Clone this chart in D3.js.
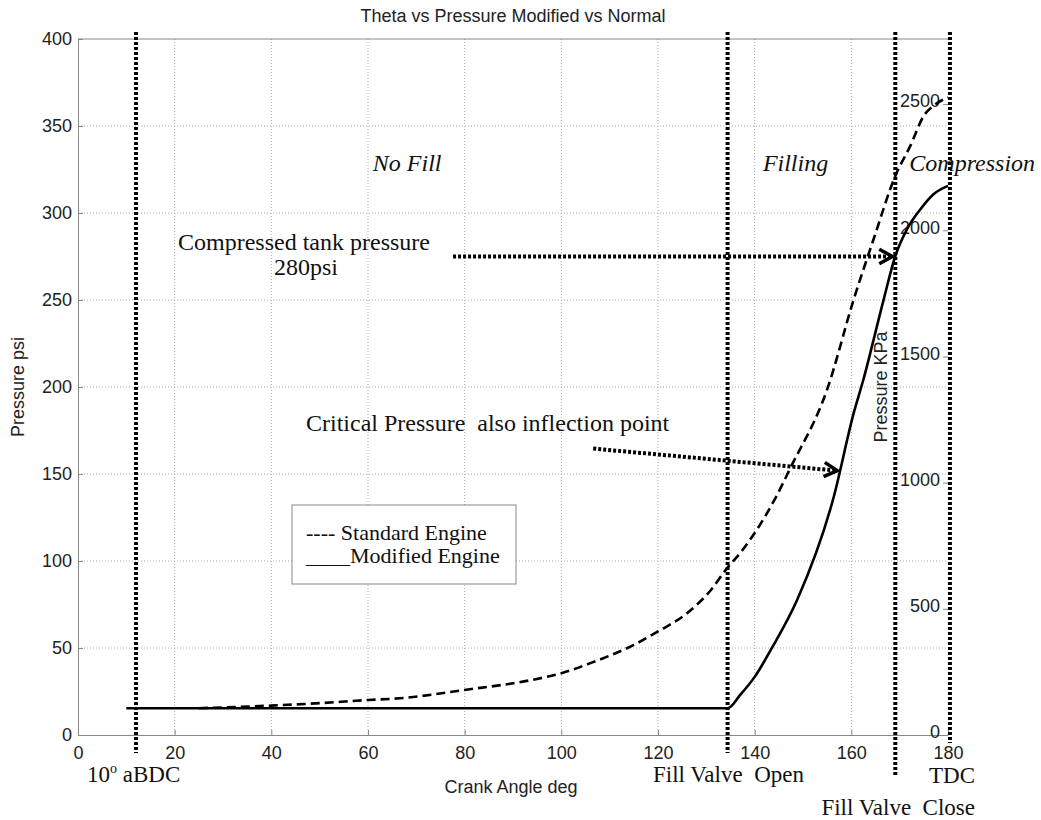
<!DOCTYPE html>
<html>
<head>
<meta charset="utf-8">
<style>
  body { margin: 0; background: #fff; }
  svg { display: block; }
  .sans { font-family: "Liberation Sans", Arial, sans-serif; fill: #222; }
  .serif { font-family: "Liberation Serif", "Times New Roman", serif; fill: #111; white-space: pre; }
</style>
</head>
<body>
<svg></svg>
<script src="https://d3js.org/d3.v7.min.js"></script>
<script>
// crank angle (deg) vs pressure (psi)
const standardEngine = [
  [25, 15.4], [40, 16.9], [50, 18.3], [60, 20.1], [66.6, 21.1], [80, 25.9],
  [94, 31.7], [100, 35.5], [106, 41.3], [115, 51.8], [120, 59.5], [126, 70],
  [131, 83.5], [134.3, 95.9], [137, 104.6], [144.3, 136.2], [147.4, 153.5],
  [155, 198.6], [160.5, 250.4], [164.6, 284.9], [169.1, 321.3], [172.2, 338.6],
  [175, 355.9], [177, 361.6], [180, 366.4]
];
const modifiedEngine = [
  [10, 15.4], [134.4, 15.4], [137, 23], [140, 33.4], [143.6, 50.2], [148.8, 77.7],
  [156.3, 136.2], [160.5, 185.1], [162.5, 204.3], [166.7, 250.4], [169.1, 275.3],
  [171.5, 290.6], [174.3, 302.2], [177, 310.8], [180, 315.6]
];

const angleTicks = [0, 20, 40, 60, 80, 100, 120, 140, 160, 180];
const psiTicks = [0, 50, 100, 150, 200, 250, 300, 350, 400];
const kpaTicks = [0, 500, 1000, 1500, 2000, 2500];
const PSI_TO_KPA = 6.895;

// event lines: 10 deg aBDC, fill valve open, fill valve close, TDC
const eventAngles = [12, 134.4, 169.1, 180.4];
const eventDrop = [18, 18, 40, 8];

const regionNames = ["No Fill", "Filling", "Compression"];
const regionAngles = [61, 141.7, 172];

// annotation arrows [angle, psi] start -> end
const arrowFrom = [[77.6, 275], [106.6, 164.6]];
const arrowTo = [[168.5, 275], [157.1, 151.9]];

const W = 1041, H = 820;
const margin = { left: 78, top: 39, right: 93, bottom: 85 };
const width = W - margin.left - margin.right;
const height = H - margin.top - margin.bottom;

const svg = d3.select("svg").attr("width", W).attr("height", H);
const g = svg.append("g").attr("transform", "translate(" + margin.left + "," + margin.top + ")");

const x = d3.scaleLinear().domain([0, 180]).range([0, width]);
const y = d3.scaleLinear().domain([0, 400]).range([height, 0]);
const yKpa = d3.scaleLinear().domain([0, 400 * PSI_TO_KPA]).range([height, 0]);

// grid
g.append("g")
  .selectAll("line")
  .data(angleTicks.slice(1, -1))
  .enter().append("line")
  .attr("x1", x).attr("x2", x)
  .attr("y1", 0).attr("y2", height)
  .attr("stroke", "#aaa").attr("stroke-width", 1).attr("stroke-dasharray", "1,2");
g.append("g")
  .selectAll("line")
  .data(psiTicks.slice(1, -1))
  .enter().append("line")
  .attr("y1", y).attr("y2", y)
  .attr("x1", 0).attr("x2", width)
  .attr("stroke", "#aaa").attr("stroke-width", 1).attr("stroke-dasharray", "1,2");

// frame
g.append("line").attr("x1", 0).attr("x2", width).attr("y1", 0).attr("y2", 0)
  .attr("stroke", "#888");

// axes
const xAxis = g.append("g").attr("transform", "translate(0," + height + ")")
  .call(d3.axisBottom(x).tickValues(angleTicks).tickSizeInner(-5).tickSizeOuter(0).tickPadding(11));
const yAxis = g.append("g")
  .call(d3.axisLeft(y).tickValues(psiTicks).tickSizeInner(-5).tickSizeOuter(0).tickPadding(6));
const kAxis = g.append("g").attr("transform", "translate(" + width + ",0)")
  .call(d3.axisLeft(yKpa).tickValues(kpaTicks).tickFormat(d3.format("d"))
    .tickSizeInner(5).tickSizeOuter(0).tickPadding(3));

[xAxis, yAxis, kAxis].forEach(function(a) {
  a.selectAll("path, line").attr("stroke", "#888");
  a.selectAll("text").attr("class", "sans").attr("font-size", 18).attr("fill", "#222");
});
kAxis.select("path").remove();
kAxis.selectAll("text").attr("y", -3);

// curves
const line = d3.line()
  .x(function(d) { return x(d[0]); })
  .y(function(d) { return y(d[1]); })
  .curve(d3.curveMonotoneX);

g.append("path").datum(standardEngine)
  .attr("d", line).attr("fill", "none")
  .attr("stroke", "#000").attr("stroke-width", 2.6).attr("stroke-dasharray", "9,5");
g.append("path").datum(modifiedEngine)
  .attr("d", line).attr("fill", "none")
  .attr("stroke", "#000").attr("stroke-width", 2.6);

// event lines
g.append("g")
  .selectAll("line")
  .data(eventAngles)
  .enter().append("line")
  .attr("x1", x).attr("x2", x)
  .attr("y1", -7)
  .attr("y2", function(d, i) { return height + eventDrop[i]; })
  .attr("stroke", "#000").attr("stroke-width", 4).attr("stroke-dasharray", "3,2");

// arrows
const arrows = g.append("g");
arrowFrom.forEach(function(a, i) {
  const b = arrowTo[i];
  const x1 = x(a[0]), y1 = y(a[1]), x2 = x(b[0]), y2 = y(b[1]);
  const ang = Math.atan2(y2 - y1, x2 - x1);
  arrows.append("line")
    .attr("x1", x1).attr("y1", y1)
    .attr("x2", x2 - 3 * Math.cos(ang)).attr("y2", y2 - 3 * Math.sin(ang))
    .attr("stroke", "#000").attr("stroke-width", 4).attr("stroke-dasharray", "3,2");
  const len = 15, spread = 0.5;
  arrows.append("path")
    .attr("d", "M" + (x2 - len * Math.cos(ang - spread)) + "," + (y2 - len * Math.sin(ang - spread)) +
      "L" + x2 + "," + y2 +
      "L" + (x2 - len * Math.cos(ang + spread)) + "," + (y2 - len * Math.sin(ang + spread)))
    .attr("fill", "none").attr("stroke", "#000").attr("stroke-width", 3.5);
});

// region names
g.append("g")
  .selectAll("text")
  .data(regionNames)
  .enter().append("text")
  .attr("class", "serif")
  .attr("x", function(d, i) { return x(regionAngles[i]); })
  .attr("y", 171 - margin.top)
  .attr("font-size", 24).attr("font-style", "italic")
  .text(function(d) { return d; });

// annotation text
svg.append("text").attr("class", "serif").attr("x", 304).attr("y", 250)
  .attr("font-size", 24).attr("text-anchor", "middle").text("Compressed tank pressure");
svg.append("text").attr("class", "serif").attr("x", 306).attr("y", 275)
  .attr("font-size", 24).attr("text-anchor", "middle").text("280psi");
svg.append("text").attr("class", "serif").attr("x", 306).attr("y", 431)
  .attr("font-size", 24).text("Critical Pressure  also inflection point");

// legend
svg.append("rect").attr("x", 292).attr("y", 505).attr("width", 224).attr("height", 79)
  .attr("fill", "#fff").attr("stroke", "#888").attr("stroke-width", 1);
svg.append("text").attr("class", "serif").attr("x", 306).attr("y", 540)
  .attr("font-size", 22).text("---- Standard Engine");
svg.append("text").attr("class", "serif").attr("x", 306).attr("y", 563)
  .attr("font-size", 22).text("____Modified Engine");

// bottom event labels
const lbl = svg.append("text").attr("class", "serif").attr("x", 87).attr("y", 782).attr("font-size", 23);
lbl.append("tspan").text("10");
lbl.append("tspan").attr("font-size", 14).attr("dy", -9).text("o");
lbl.append("tspan").attr("dy", 9).text(" aBDC");
svg.append("text").attr("class", "serif").attr("x", 653).attr("y", 782)
  .attr("font-size", 23).text("Fill Valve  Open");
svg.append("text").attr("class", "serif").attr("x", 975).attr("y", 783)
  .attr("font-size", 23).attr("text-anchor", "end").text("TDC");
svg.append("text").attr("class", "serif").attr("x", 975).attr("y", 815)
  .attr("font-size", 23).attr("text-anchor", "end").text("Fill Valve  Close");

// titles
svg.append("text").attr("class", "sans").attr("x", 513).attr("y", 22)
  .attr("font-size", 18).attr("text-anchor", "middle").text("Theta vs Pressure Modified vs Normal");
svg.append("text").attr("class", "sans").attr("x", 511).attr("y", 793)
  .attr("font-size", 18).attr("text-anchor", "middle").text("Crank Angle deg");
svg.append("text").attr("class", "sans")
  .attr("transform", "translate(24," + (margin.top + y(200)) + ") rotate(-90)")
  .attr("font-size", 18).attr("text-anchor", "middle").text("Pressure psi");
svg.append("text").attr("class", "sans")
  .attr("transform", "translate(887," + (margin.top + y(200)) + ") rotate(-90)")
  .attr("font-size", 18).attr("text-anchor", "middle").text("Pressure KPa");
</script>
</body>
</html>
